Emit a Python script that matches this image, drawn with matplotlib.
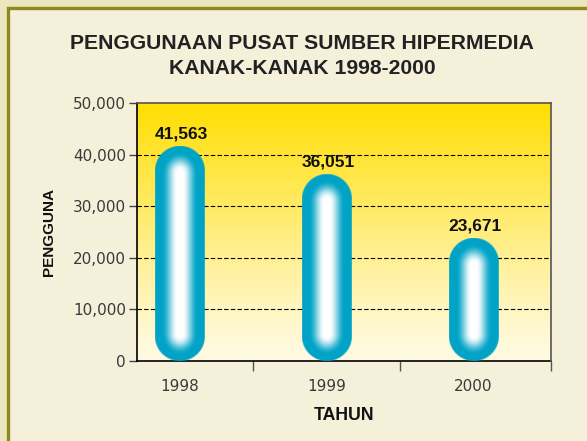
import numpy as np
import matplotlib
matplotlib.use("Agg")
import matplotlib.pyplot as plt
from matplotlib.patches import Rectangle

# data
years = ["1998", "1999", "2000"]
users = [41563, 36051, 23671]
value_labels = ["41,563", "36,051", "23,671"]
yticks = [0, 10000, 20000, 30000, 40000, 50000]
ytick_labels = ["0", "10,000", "20,000", "30,000", "40,000", "50,000"]

W, H = 587, 441
fig = plt.figure(figsize=(W / 100, H / 100), dpi=100)
fig.patch.set_facecolor("#ECE6BE")

# frame round the chart
fig.patches.append(Rectangle((7.5 / W, -0.05), 1.1, (H - 7.5) / H + 0.05,
                             transform=fig.transFigure, facecolor="#F5F0DA",
                             edgecolor="#8C8A1E", linewidth=2.4, zorder=-5))

ax = fig.add_axes([137 / W, (H - 361) / H, 414 / W, 258 / H])
ax.set_zorder(2)
xmin, xmax = -0.29, 2.527
ax.set_xlim(xmin, xmax)
ax.set_ylim(0, 50000)

# plot area gradient (yellow top -> cream bottom)
top = np.array([255, 222, 0]) / 255
bot = np.array([255, 250, 228]) / 255
t = np.linspace(0, 1, 256) ** 1.15
grad = bot[None, :] * (1 - t[:, None]) + top[None, :] * t[:, None]
ax.imshow(grad[:, None, :], extent=(xmin, xmax, 0, 50000), origin="lower",
          aspect="auto", zorder=0, interpolation="bilinear")

# dashed gridlines
for yv in yticks[1:-1]:
    ax.axhline(yv, color="black", lw=0.8, linestyle=(0, (4, 2)), zorder=1)

# capsule bars drawn as shaded images
teal = np.array([0, 163, 198]) / 255
white = np.array([1.0, 1.0, 1.0])
bar_w = 0.335
fig.canvas.draw()
for i, v in enumerate(users):
    x0, x1 = i - bar_w / 2, i + bar_w / 2
    p0 = ax.transData.transform((x0, 0))
    p1 = ax.transData.transform((x1, v))
    wpx = p1[0] - p0[0]
    hpx = p1[1] - p0[1]
    r = wpx / 2
    ss = 3
    nx, ny = int(round(wpx * ss)), int(round(hpx * ss))
    xs = (np.arange(nx) + 0.5) / ss - r
    ys = (np.arange(ny) + 0.5) / ss
    X, Y = np.meshgrid(xs, ys)
    Yc = np.clip(Y, r * 1.1, hpx - r * 1.1)
    d = np.sqrt(X ** 2 + ((Y - Yc) * 0.85) ** 2) / r
    edge = np.sqrt(X ** 2 + (Y - np.clip(Y, r, hpx - r)) ** 2) / r
    s = np.clip((d - 0.1) / (0.72 - 0.1), 0, 1)
    s = s * s * (3 - 2 * s)
    rgb = white[None, None, :] * (1 - s[..., None]) + teal[None, None, :] * s[..., None]
    alpha = np.clip((1 - edge) * r + 0.5, 0, 1)
    img = np.dstack([rgb, alpha])
    ax.imshow(img, extent=(x0, x1, 0, v), origin="lower", aspect="auto",
              zorder=3, interpolation="bilinear")
    ax.text(i + 0.01, v + 1000, value_labels[i], ha="center", va="bottom",
            fontsize=12.5, fontweight="bold", family="Liberation Sans",
            color="#111111", zorder=4)

ax.set_xlim(xmin, xmax)
ax.set_ylim(0, 50000)

# axes styling
for side in ["left", "bottom"]:
    ax.spines[side].set_color("black")
    ax.spines[side].set_linewidth(1.2)
for side in ["top", "right"]:
    ax.spines[side].set_color("#555555")
    ax.spines[side].set_linewidth(1.2)
    ax.spines[side].set_zorder(5)

ax.set_yticks(yticks)
ax.set_yticklabels(ytick_labels, fontsize=11, color="#3a3a3a")
ax.tick_params(axis="y", length=6, width=1, color="#444444", pad=2)

ax.set_xticks(range(len(years)))
ax.set_xticklabels(years, fontsize=11, color="#3a3a3a")
ax.tick_params(axis="x", which="major", length=0, pad=13)
ax.set_xticks([0.5, 1.5, xmax], minor=True)
ax.tick_params(axis="x", which="minor", length=7, width=1, color="#555555")

ax.set_xlabel("TAHUN", fontsize=12.7, fontweight="bold", family="Liberation Sans",
              color="#111111", labelpad=9)
ax.set_ylabel("PENGGUNA", fontsize=11, fontweight="bold", family="Liberation Sans",
              color="#111111", labelpad=12)

fig.text(302 / W, 1 - 56 / H, "PENGGUNAAN PUSAT SUMBER HIPERMEDIA\nKANAK-KANAK 1998-2000",
         ha="center", va="center", fontsize=15.2, fontweight="bold",
         family="Liberation Sans", color="#222222", linespacing=1.35)

fig.savefig("out.png", dpi=100, facecolor=fig.get_facecolor())
